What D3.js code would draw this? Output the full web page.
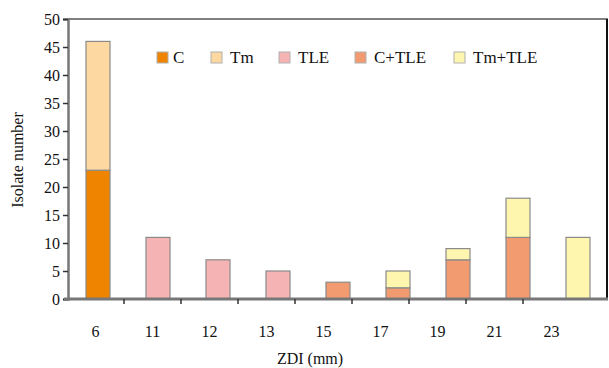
<!DOCTYPE html>
<html>
<head>
<meta charset="utf-8">
<script src="https://cdn.jsdelivr.net/npm/d3@7"></script>
<style>
  body { margin: 0; background: #fff; }
</style>
</head>
<body>
<svg id="chart" width="609" height="368"></svg>
<script>
// categories (ZDI in mm) and stacked series
const categories = ['6', '11', '12', '13', '15', '17', '19', '21', '23'];
const seriesNames = ['C', 'Tm', 'TLE', 'C+TLE', 'Tm+TLE'];
const cValues     = [23, 0, 0, 0, 0, 0, 0, 0, 0];
const tmValues    = [23, 0, 0, 0, 0, 0, 0, 0, 0];
const tleValues   = [0, 11, 7, 5, 0, 0, 0, 0, 0];
const cTleValues  = [0, 0, 0, 0, 3, 2, 7, 11, 0];
const tmTleValues = [0, 0, 0, 0, 0, 3, 2, 7, 11];
const yTicks = [0, 5, 10, 15, 20, 25, 30, 35, 40, 45, 50];
const colors = ['#ee8400', '#fdd8a0', '#f5b3b3', '#f29a70', '#fef6ae'];

const serif = '"Liberation Serif", "Times New Roman", "DejaVu Serif", serif';

const rows = categories.map((c, i) => ({
  cat: c,
  'C': cValues[i], 'Tm': tmValues[i], 'TLE': tleValues[i],
  'C+TLE': cTleValues[i], 'Tm+TLE': tmTleValues[i]
}));

const svg = d3.select('#chart');
const margin = {left: 68, right: 1, top: 19, bottom: 69};
const width = 609 - margin.left - margin.right;
const height = 368 - margin.top - margin.bottom;

const g = svg.append('g').attr('transform', `translate(${margin.left},${margin.top})`);

const x = d3.scaleBand().domain(categories).range([0, width]).paddingInner(0.6).paddingOuter(0.3);
// the category axis of the original is a bit narrower than the bar spacing
const xAxisScale = d3.scaleBand().domain(categories).range([-1, 512]);
const y = d3.scaleLinear().domain([0, 50]).range([height, 0]);
const color = d3.scaleOrdinal().domain(seriesNames).range(colors);

const stacked = d3.stack().keys(seriesNames)(rows);

// frame: top and right
g.append('line').attr('x1', 0).attr('x2', width).attr('y1', 0).attr('y2', 0)
  .attr('stroke', '#555').attr('stroke-width', 1.5);
g.append('line').attr('x1', width - 1).attr('x2', width - 1).attr('y1', 0).attr('y2', height)
  .attr('stroke', '#111').attr('stroke-width', 2);

// bars
g.selectAll('.series')
  .data(stacked)
  .enter().append('g')
    .attr('class', 'series')
    .attr('fill', d => color(d.key))
  .selectAll('rect')
  .data(d => d.filter(s => s[1] - s[0] > 0))
  .enter().append('rect')
    .attr('x', d => x(d.data.cat))
    .attr('y', d => y(d[1]))
    .attr('width', x.bandwidth())
    .attr('height', d => y(d[0]) - y(d[1]))
    .attr('stroke', '#8a8a8a')
    .attr('stroke-width', 1.2);

// y axis
const yAxisG = g.append('g')
  .call(d3.axisLeft(y).tickValues(yTicks).tickSize(5).tickPadding(3))
  .attr('font-family', serif);
yAxisG.select('.domain').attr('stroke', '#777').attr('stroke-width', 2.5);
yAxisG.selectAll('.tick line').attr('stroke', '#333').attr('stroke-width', 1.5);
yAxisG.selectAll('.tick text')
  .style('font-family', serif)
  .style('font-size', '16px')
  .attr('fill', '#111');

// x axis: baseline and ticks at category boundaries
g.append('line').attr('x1', -4).attr('x2', width).attr('y1', height).attr('y2', height)
  .attr('stroke', '#777').attr('stroke-width', 3);
const boundaries = categories.slice(1).map(c => xAxisScale(c));
g.selectAll('.xtick')
  .data(boundaries)
  .enter().append('line')
    .attr('class', 'xtick')
    .attr('x1', d => d).attr('x2', d => d)
    .attr('y1', height).attr('y2', height + 5)
    .attr('stroke', '#333').attr('stroke-width', 1.5);
g.selectAll('.xlabel')
  .data(categories)
  .enter().append('text')
    .attr('class', 'xlabel')
    .attr('x', d => xAxisScale(d) + xAxisScale.bandwidth() / 2)
    .attr('y', height + 38)
    .attr('text-anchor', 'middle')
    .style('font-family', serif)
    .style('font-size', '16px')
    .attr('fill', '#111')
    .text(d => d);

// axis titles
svg.append('text')
  .attr('x', 310).attr('y', 364)
  .attr('text-anchor', 'middle')
  .style('font-family', serif)
  .style('font-size', '16px')
  .attr('fill', '#111')
  .text('ZDI (mm)');
svg.append('text')
  .attr('transform', 'translate(23,160) rotate(-90)')
  .attr('text-anchor', 'middle')
  .style('font-family', serif)
  .style('font-size', '16px')
  .attr('fill', '#111')
  .text('Isolate number');

// legend
const legendX = [157, 211, 279, 355, 454];
const legend = svg.selectAll('.legend')
  .data(seriesNames)
  .enter().append('g')
    .attr('class', 'legend')
    .attr('transform', (d, i) => `translate(${legendX[i]},52)`);
legend.append('rect')
  .attr('width', 11).attr('height', 11)
  .attr('fill', d => color(d))
  .attr('stroke', '#b0b0b0').attr('stroke-width', 1);
legend.append('text')
  .attr('x', d => d === 'C' ? 16 : 19)
  .attr('y', 11)
  .style('font-family', serif)
  .style('font-size', '17px')
  .attr('fill', '#111')
  .text(d => d);
</script>
</body>
</html>
